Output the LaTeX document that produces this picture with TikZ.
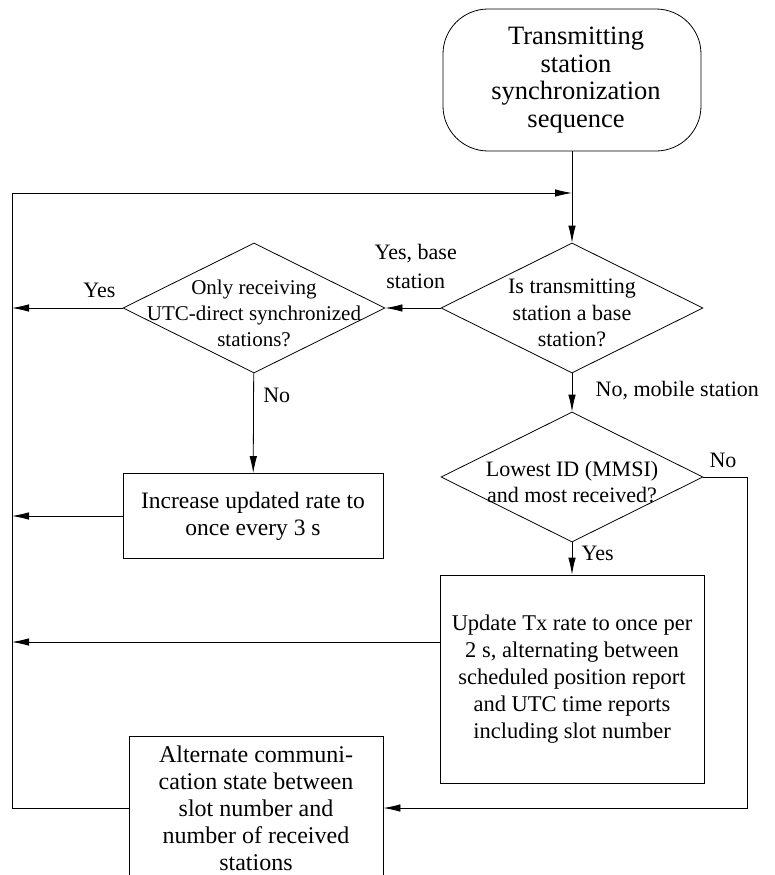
\documentclass[tikz,border=0pt]{standalone}
\usepackage{fontspec}
\setmainfont{Liberation Serif}
\newfontfamily\flowfont{Liberation Serif}
\usetikzlibrary{shapes.geometric,arrows.meta}
\newcommand{\dtext}[1]{\makebox[0pt]{\smash{\raisebox{-12pt}{\begin{tabular}{@{}c@{}}#1\end{tabular}}}}}

\begin{document}
\begin{tikzpicture}[x=1pt,y=-1pt,
  font=\flowfont\fontsize{22}{27}\selectfont,
  line width=0.8pt,>={Latex[length=17pt,width=7.5pt]},
  startbox/.style={draw,rounded corners=45pt,minimum width=258pt,minimum height=142pt,align=center,
    font=\flowfont\fontsize{26.5}{27.5}\selectfont},
  decision/.style={draw,diamond,inner sep=0pt,minimum width=262pt,minimum height=130pt,
    font=\flowfont\fontsize{21}{26}\selectfont},
  action/.style={draw,align=center,inner sep=0pt}]
  \useasboundingbox (0,0) rectangle (774,875);

  \node[startbox] (start) at (572,80) {\hspace*{8pt}Transmitting\\\hspace*{8pt}station\\\hspace*{8pt}synchronization\\\hspace*{8pt}sequence};
  \node[decision,font=\flowfont\fontsize{22}{26.5}\selectfont] (isbase) at (572,308) {\dtext{Is transmitting\\station a base\\station?}};
  \node[decision] (onlyutc) at (254,308) {\dtext{Only receiving\\UTC-direct synchronized\\stations?}};
  \node[action,minimum width=260pt,minimum height=85pt,font=\flowfont\fontsize{23.5}{27}\selectfont] (incrate) at (253,516)
    {Increase updated rate to\\once every 3 s};
  \node[decision,font=\flowfont\fontsize{22}{26}\selectfont] (lowest) at (572,477) {\dtext{Lowest ID (MMSI)\\and most received?}};
  \node[action,minimum width=264pt,minimum height=208pt,font=\flowfont\fontsize{22.5}{27}\selectfont] (update) at (572,679)
    {Update Tx rate to once per\\2 s, alternating between\\scheduled position report\\and UTC time reports\\including slot number};
  \node[action,minimum width=254pt,minimum height=144pt,font=\flowfont\fontsize{24}{27}\selectfont] (altcomm) at (256,808)
    {Alternate communi-\\cation state between\\slot number and\\number of received\\stations};

  \coordinate (looptop) at (12,193);
  \coordinate (join) at (572,193);
  \coordinate (rtcorner) at (747,477);

  % main flow
  \draw[->] (start) -- (isbase);
  \draw[->] (isbase) -- (onlyutc) node[pos=0.45,above=16pt,align=center,font=\flowfont\fontsize{22}{29}\selectfont] (lbase) {Yes, base\\station};
  \draw[->] (onlyutc.west) -- (onlyutc.west -| looptop) node[pos=0.21,above=7pt] (lyes1) {Yes};
  \draw[->] (onlyutc) -- (incrate) node[pos=0.22,right=6pt] (lno1) {No};
  \draw[->] (incrate.west) -- (incrate.west -| looptop);
  \draw[->] (isbase) -- (lowest) node[pos=0.45,right=20pt] (lmobile) {No, mobile station};
  \draw[->] (lowest) -- (update) node[pos=0.35,right=6pt] (lyes2) {Yes};
  \draw[->] ([yshift=37pt]update.west) -- ([yshift=37pt]update.west -| looptop);
  \draw[->] (lowest.east) -- (rtcorner) node[pos=0.45,above=6pt] (lno2) {No} |- (altcomm.east);

  % loop back
  \draw[->] (altcomm.west) -| (looptop) -- (join);
\end{tikzpicture}
\end{document}
